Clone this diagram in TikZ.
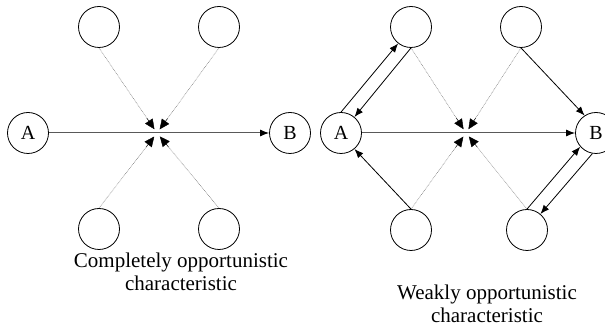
\documentclass[tikz,border=0pt]{standalone}
\usepackage{fontspec}
\setmainfont{Liberation Serif}
\usetikzlibrary{arrows.meta,calc}
\begin{document}
\begin{tikzpicture}[x=1pt,y=-1pt,
  relay/.style={circle,draw=black,line width=0.8pt,minimum size=41pt,inner sep=0pt,font=\fontsize{20}{20}\selectfont},
  tipa/.style={-{Latex[length=9pt,width=7pt,black]}},
  tipc/.style={-{Triangle[length=10pt,width=9pt]}},
  solidarr/.style={tipa,line width=0.8pt,black},
  dotline/.style={line width=0.5pt,gray,dash pattern=on 0.8pt off 0.8pt,shorten >=8pt},
  tiponly/.style={tipc,line width=0.4pt,black,solid},
  hline/.style={line width=1pt,black!65},
  caption/.style={align=center,font=\fontsize{21}{23}\selectfont}]
\useasboundingbox (0,0) rectangle (605,328);
% left panel
\node[relay] (A1) at (28,133) {A};
\node[relay] (B1) at (290,133) {B};
\node[relay] (T1) at (99,27) {};
\node[relay] (T2) at (219,27) {};
\node[relay] (D1) at (99,229) {};
\node[relay] (D2) at (219,229) {};
\coordinate (M1) at (157,133);
% right panel
\node[relay] (A2) at (341,133) {A};
\node[relay] (B2) at (596,133) {B};
\node[relay] (TL) at (411,27) {};
\node[relay] (TR) at (521,27) {};
\node[relay] (BL) at (411,230) {};
\node[relay] (BR) at (527,230) {};
\coordinate (M2) at (466,133);
\draw[hline,tipa] (A1.east) -- (B1.west);
\draw[hline,tipa] (A2.east) -- (B2.west);
% dotted relay lines with arrowheads at the centre
\foreach \s/\m in {T1.south/M1,T2.south/M1,D1.north/M1,D2.north/M1,TL.south/M2,TR.south/M2,BL.north/M2,BR.north/M2}{
  \draw[dotline] (\s) -- (\m);
  \draw[tiponly] ($(\m)!18pt!(\s)$) -- ($(\m)!4.5pt!(\s)$);
}
\node[caption] (C1) at (181,272) {Completely opportunistic\\characteristic};
\draw[solidarr] (A2.north) -- (TL.232);
\draw[solidarr] (TL.south) -- (A2.50);
\draw[solidarr] (BL.north) -- (A2.-50);
\draw[solidarr] (TR.south) -- (B2.123);
\draw[solidarr] (BR.north) -- (B2.221);
\draw[solidarr] (B2.260) -- (BR.50);
\node[caption] (C2) at (487,304) {Weakly opportunistic\\characteristic};
\end{tikzpicture}
\end{document}
